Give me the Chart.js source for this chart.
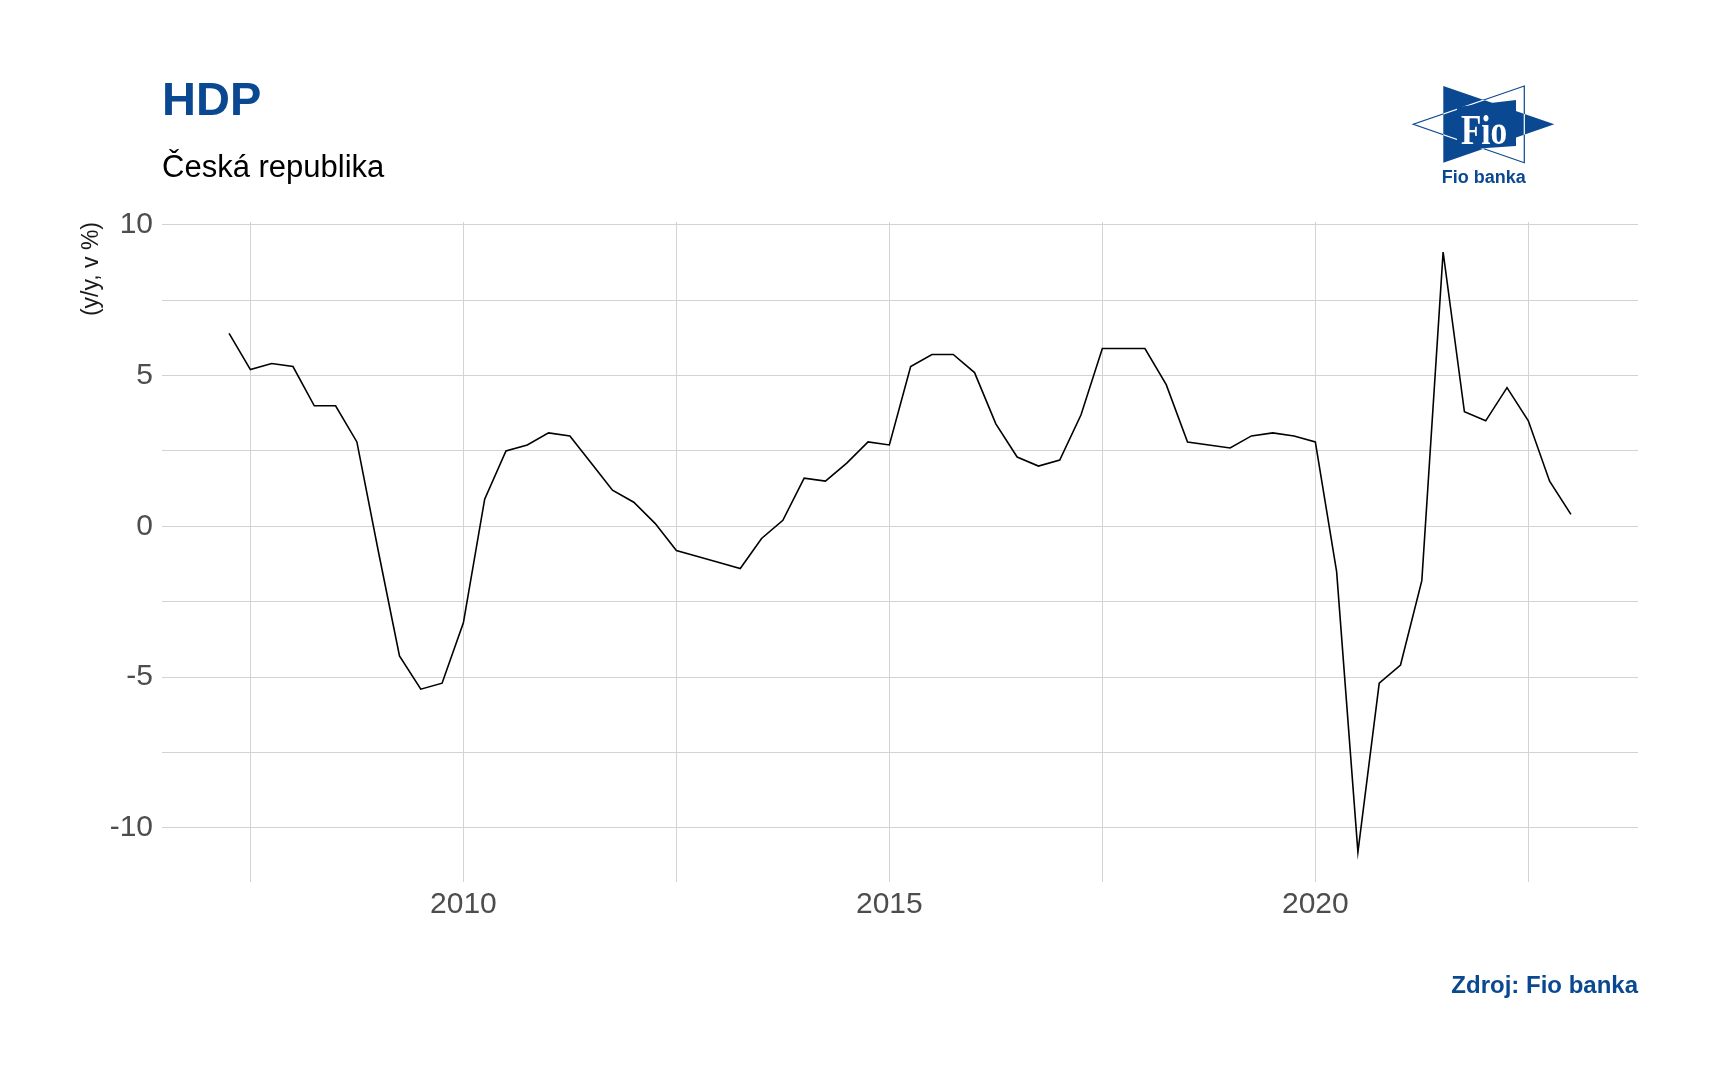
<!DOCTYPE html>
<html>
<head>
<meta charset="utf-8">
<script src="https://cdn.jsdelivr.net/npm/chart.js@4/dist/chart.umd.min.js"></script>
<style>
  html, body { margin: 0; padding: 0; background: #ffffff; }
  #wrap { position: relative; width: 1718px; height: 1078px; }
  canvas { display: block; }
</style>
</head>
<body>
<div id="wrap"><canvas id="c" width="1718" height="1078"></canvas></div>
<script>
// ---- Data (quarterly, y/y GDP growth in %) ----
const quarters = [
  '2007-04','2007-07','2007-10','2008-01','2008-04','2008-07','2008-10','2009-01',
  '2009-04','2009-07','2009-10','2010-01','2010-04','2010-07','2010-10','2011-01',
  '2011-04','2011-07','2011-10','2012-01','2012-04','2012-07','2012-10','2013-01',
  '2013-04','2013-07','2013-10','2014-01','2014-04','2014-07','2014-10','2015-01',
  '2015-04','2015-07','2015-10','2016-01','2016-04','2016-07','2016-10','2017-01',
  '2017-04','2017-07','2017-10','2018-01','2018-04','2018-07','2018-10','2019-01',
  '2019-04','2019-07','2019-10','2020-01','2020-04','2020-07','2020-10','2021-01',
  '2021-04','2021-07','2021-10','2022-01','2022-04','2022-07','2022-10','2023-01'
];
const gdpGrowth = [
  6.4, 5.2, 5.4, 5.3, 4.0, 4.0, 2.8, -0.8,
  -4.3, -5.4, -5.2, -3.2, 0.9, 2.5, 2.7, 3.1,
  3.0, 2.1, 1.2, 0.8, 0.1, -0.8, -1.0, -1.2,
  -1.4, -0.4, 0.2, 1.6, 1.5, 2.1, 2.8, 2.7,
  5.3, 5.7, 5.7, 5.1, 3.4, 2.3, 2.0, 2.2,
  3.7, 5.9, 5.9, 5.9, 4.7, 2.8, 2.7, 2.6,
  3.0, 3.1, 3.0, 2.8, -1.5, -10.8, -5.2, -4.6,
  -1.8, 9.1, 3.8, 3.5, 4.6, 3.5, 1.5, 0.4
];
const xGridYears = [2007.5, 2010, 2012.5, 2015, 2017.5, 2020, 2022.5];
const xTickLabels = ['', '2010', '', '2015', '', '2020', ''];
const yGridValues = [-10, -7.5, -5, -2.5, 0, 2.5, 5, 7.5, 10];
const yTickLabels = ['-10', '', '-5', '', '0', '', '5', '', '10'];

const titleText = 'HDP';
const subtitleText = 'Česká republika';
const yAxisTitle = '(y/y, v %)';
const captionText = 'Zdroj: Fio banka';

// ---- Build points ----
function toYear(s) {
  const [y, m] = s.split('-').map(Number);
  return y + (m - 1) / 12;
}
const points = quarters.map((q, i) => ({ x: toYear(q), y: gdpGrowth[i] }));

const FIO_BLUE = '#0a4891';
const SANS = '"Liberation Sans", Arial, "DejaVu Sans", sans-serif';

// expansion like ggplot (5%)
const xs = points.map(p => p.x), ys = gdpGrowth;
const xMinD = Math.min(...xs), xMaxD = Math.max(...xs);
const yMinD = Math.min(...ys), yMaxD = Math.max(...ys);
const xPad = (xMaxD - xMinD) * 0.05, yPad = (yMaxD - yMinD) * 0.05;

const decorPlugin = {
  id: 'decor',
  afterDraw(chart) {
    const ctx = chart.ctx;
    const area = chart.chartArea;
    ctx.save();
    // Title
    ctx.fillStyle = FIO_BLUE;
    ctx.font = 'bold 47px ' + SANS;
    ctx.textAlign = 'left';
    ctx.textBaseline = 'alphabetic';
    ctx.fillText(titleText, 162, 115);
    // Subtitle
    ctx.fillStyle = '#000000';
    ctx.font = '31px ' + SANS;
    ctx.fillText(subtitleText, 162, 177);
    // Y axis title (rotated, top aligned)
    ctx.save();
    ctx.translate(92, area.top);
    ctx.rotate(-Math.PI / 2);
    ctx.font = '23px ' + SANS;
    ctx.fillStyle = '#1a1a1a';
    ctx.textAlign = 'right';
    ctx.textBaseline = 'middle';
    ctx.fillText(yAxisTitle, 0, 0);
    ctx.restore();
    // Caption
    ctx.fillStyle = FIO_BLUE;
    ctx.font = 'bold 24px ' + SANS;
    ctx.textAlign = 'right';
    ctx.fillText(captionText, area.right, 993);

    // Logo
    ctx.save();
    ctx.beginPath();
    ctx.moveTo(1524.3, 86); ctx.lineTo(1524.3, 162.7); ctx.lineTo(1413.3, 124.3); ctx.closePath();
    ctx.fillStyle = '#ffffff'; ctx.fill();
    ctx.strokeStyle = FIO_BLUE; ctx.lineWidth = 1.2; ctx.stroke();
    ctx.beginPath();
    ctx.moveTo(1443.3, 86); ctx.lineTo(1443.3, 162.7); ctx.lineTo(1554.3, 124.3); ctx.closePath();
    ctx.fillStyle = FIO_BLUE; ctx.fill();
    ctx.save();
    ctx.clip();
    ctx.beginPath();
    ctx.moveTo(1524.3, 86); ctx.lineTo(1524.3, 162.7); ctx.lineTo(1413.3, 124.3); ctx.closePath();
    ctx.strokeStyle = '#ffffff'; ctx.lineWidth = 1.2; ctx.stroke();
    ctx.restore();
    ctx.fillStyle = FIO_BLUE;
    ctx.beginPath();
    ctx.moveTo(1457, 107); ctx.lineTo(1516, 100); ctx.lineTo(1516, 146); ctx.lineTo(1457, 150); ctx.closePath();
    ctx.fill();
    ctx.save();
    ctx.translate(1484, 143.5);
    ctx.scale(0.9, 1.12);
    ctx.fillStyle = '#ffffff';
    ctx.font = 'bold 37px "Liberation Serif", "DejaVu Serif", serif';
    ctx.textAlign = 'center';
    ctx.textBaseline = 'alphabetic';
    ctx.fillText('Fio', 0, 0);
    ctx.restore();
    ctx.fillStyle = FIO_BLUE;
    ctx.font = 'bold 18px ' + SANS;
    ctx.textAlign = 'center';
    ctx.fillText('Fio banka', 1483.7, 183);
    ctx.restore();

    ctx.restore();
  }
};

new Chart(document.getElementById('c'), {
  type: 'line',
  data: {
    datasets: [{
      label: 'HDP',
      data: points,
      borderColor: '#000000',
      borderWidth: 1.6,
      pointRadius: 0,
      pointHoverRadius: 0,
      tension: 0,
      fill: false
    }]
  },
  options: {
    responsive: false,
    animation: false,
    events: [],
    layout: { padding: { top: 222, left: 0, right: 80, bottom: 136 } },
    plugins: {
      legend: { display: false },
      tooltip: { enabled: false },
      title: { display: false }
    },
    scales: {
      x: {
        type: 'linear',
        min: xMinD - xPad,
        max: xMaxD + xPad,
        afterBuildTicks(scale) {
          scale.ticks = xGridYears.map(v => ({ value: v }));
        },
        afterFit(scale) { scale.height = 60; },
        grid: { color: '#d3d3d3', lineWidth: 1, drawTicks: false },
        border: { display: false },
        ticks: {
          padding: 5,
          maxRotation: 0,
          autoSkip: false,
          color: '#4d4d4d',
          font: { family: SANS, size: 30 },
          callback(value) {
            const i = xGridYears.indexOf(value);
            return i >= 0 ? xTickLabels[i] : '';
          }
        }
      },
      y: {
        type: 'linear',
        min: yMinD - yPad,
        max: yMaxD + yPad,
        afterBuildTicks(scale) {
          scale.ticks = yGridValues.map(v => ({ value: v }));
        },
        afterFit(scale) { scale.width = 162; },
        grid: { color: '#d3d3d3', lineWidth: 1, drawTicks: false },
        border: { display: false },
        ticks: {
          padding: 9,
          autoSkip: false,
          color: '#4d4d4d',
          font: { family: SANS, size: 30 },
          callback(value) {
            const i = yGridValues.indexOf(value);
            return i >= 0 ? yTickLabels[i] : '';
          }
        }
      }
    }
  },
  plugins: [decorPlugin]
});
</script>
</body>
</html>
